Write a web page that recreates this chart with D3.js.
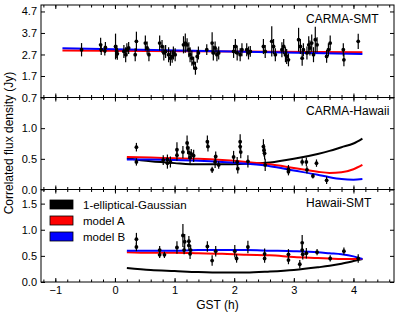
<!DOCTYPE html>
<html>
<head>
<meta charset="utf-8">
<script src="https://cdn.jsdelivr.net/npm/d3@7"></script>
<style>
    body { margin: 0; background: #fff; }
    svg { display: block; font-family: 'Liberation Sans', Arial, sans-serif; }
</style>
</head>
<body>
<svg id="chart" width="403" height="318"></svg>
<script>
// measurements per baseline: [GST (h), flux (Jy), error (Jy)]
const carmaSmt = [
    [-0.56, 2.92, 0.31], [-0.24, 3.15, 0.33], [-0.23, 2.92, 0.25], [-0.17, 2.87, 0.22], [-0.16, 3.03, 0.25],
    [0.01, 3.07, 0.60], [0.03, 2.84, 0.30], [0.04, 2.73, 0.28], [0.15, 2.84, 0.30], [0.18, 2.69, 0.35],
    [0.20, 2.92, 0.30], [0.23, 3.00, 0.28], [0.36, 3.31, 0.45], [0.34, 2.69, 0.30], [0.51, 3.23, 0.35],
    [0.54, 3.00, 0.30], [0.57, 2.69, 0.30], [0.75, 3.23, 0.35], [0.79, 3.07, 0.30], [0.82, 2.77, 0.35],
    [0.85, 2.84, 0.30], [0.90, 2.69, 0.35], [0.93, 2.53, 0.35], [0.96, 2.61, 0.30], [0.98, 2.77, 0.30],
    [1.01, 2.69, 0.30], [1.15, 3.15, 0.40], [1.18, 3.23, 0.45], [1.21, 3.15, 0.30], [1.24, 2.92, 0.35],
    [1.26, 2.69, 0.35], [1.29, 2.53, 0.35], [1.32, 2.30, 0.30], [1.35, 2.06, 0.30], [1.38, 2.61, 0.30],
    [1.40, 2.77, 0.30], [1.54, 2.92, 0.25], [1.63, 3.23, 0.50], [1.65, 2.77, 0.35], [1.68, 3.00, 0.30],
    [1.71, 2.69, 0.30], [1.74, 2.77, 0.30], [1.99, 2.84, 0.30], [2.02, 3.07, 0.35], [2.05, 2.77, 0.35],
    [2.10, 2.69, 0.30], [2.13, 2.92, 0.30], [2.21, 2.92, 0.30], [2.24, 2.77, 0.30], [2.27, 2.84, 0.25],
    [2.49, 3.07, 0.35], [2.52, 2.84, 0.30], [2.63, 3.31, 0.70], [2.66, 3.07, 0.35], [2.69, 2.69, 0.30],
    [2.80, 2.92, 0.35], [2.83, 3.07, 0.35], [2.86, 2.69, 0.35], [2.88, 2.61, 0.35], [2.91, 2.45, 0.30],
    [3.08, 3.39, 0.55], [3.11, 3.07, 0.35], [3.14, 2.53, 0.35], [3.16, 2.92, 0.30], [3.22, 2.77, 0.30],
    [3.25, 3.15, 0.40], [3.27, 3.00, 0.35], [3.30, 3.23, 0.40], [3.33, 2.69, 0.35], [3.36, 3.39, 0.60],
    [3.39, 3.15, 0.35], [3.55, 2.61, 0.30], [3.58, 2.92, 0.30], [3.61, 3.23, 0.35], [3.83, 2.92, 0.30],
    [3.84, 2.45, 0.30], [4.08, 3.31, 0.35]
];

const carmaHawaii = [
    [0.36, 0.69, 0.07], [0.36, 0.45, 0.06], [0.81, 0.48, 0.08], [0.88, 0.49, 0.08], [0.88, 0.43, 0.09],
    [0.93, 0.45, 0.09], [1.04, 0.65, 0.12], [1.04, 0.56, 0.09], [1.14, 0.61, 0.10], [1.21, 0.76, 0.12],
    [1.22, 0.68, 0.10], [1.24, 0.60, 0.10], [1.26, 0.52, 0.10], [1.28, 0.58, 0.08], [1.32, 0.55, 0.10],
    [1.55, 0.78, 0.10], [1.56, 0.70, 0.08], [1.63, 0.32, 0.05], [1.68, 0.45, 0.10], [1.69, 0.54, 0.08],
    [1.74, 0.40, 0.06], [1.99, 0.53, 0.10], [2.05, 0.45, 0.08], [2.06, 0.34, 0.08], [2.10, 0.78, 0.12],
    [2.10, 0.70, 0.10], [2.11, 0.61, 0.10], [2.23, 0.46, 0.10], [2.49, 0.70, 0.12], [2.50, 0.64, 0.10],
    [2.51, 0.59, 0.10], [2.52, 0.40, 0.10], [2.91, 0.33, 0.07], [2.91, 0.29, 0.06], [3.14, 0.45, 0.06],
    [3.21, 0.45, 0.07], [3.22, 0.32, 0.06], [3.32, 0.22, 0.04], [3.38, 0.43, 0.06], [3.55, 0.15, 0.06]
];

const hawaiiSmt = [
    [0.36, 0.82, 0.12], [0.36, 0.67, 0.08], [0.75, 0.61, 0.08], [0.75, 0.52, 0.06], [0.83, 0.52, 0.06],
    [1.04, 0.66, 0.12], [1.14, 0.89, 0.22], [1.16, 0.61, 0.08], [1.17, 0.77, 0.15], [1.24, 0.78, 0.10],
    [1.24, 0.70, 0.10], [1.27, 0.61, 0.10], [1.26, 0.54, 0.10], [1.55, 0.68, 0.10], [1.63, 0.41, 0.10],
    [1.69, 0.59, 0.10], [2.01, 0.59, 0.12], [2.04, 0.45, 0.08], [2.23, 0.67, 0.12], [2.51, 0.54, 0.10],
    [2.51, 0.45, 0.08], [2.91, 0.53, 0.10], [2.91, 0.42, 0.08], [3.10, 0.34, 0.08], [3.14, 0.75, 0.15],
    [3.14, 0.61, 0.10], [3.15, 0.53, 0.10], [3.21, 0.55, 0.10], [3.39, 0.57, 0.06], [3.61, 0.45, 0.06],
    [3.84, 0.59, 0.07], [4.08, 0.45, 0.08]
];

// model curves
const topModelGst = [-0.88, 4.15];
const smtModelA = [2.88, 2.80];
const smtModelB = [2.99, 2.72];

const modelGst = [0.2, 0.6, 1.0, 1.4, 1.8, 2.2, 2.6, 3.0, 3.4, 3.6, 3.8, 4.0, 4.15];
const hawaiiGauss = [0.51, 0.46, 0.43, 0.41, 0.41, 0.42, 0.44, 0.50, 0.58, 0.63, 0.69, 0.75, 0.83];
const hawaiiModelA = [0.53, 0.52, 0.51, 0.50, 0.48, 0.45, 0.41, 0.35, 0.29, 0.27, 0.28, 0.33, 0.40];
const hawaiiModelB = [0.49, 0.49, 0.48, 0.47, 0.45, 0.42, 0.38, 0.31, 0.24, 0.20, 0.17, 0.16, 0.17];
const hsGauss = [0.27, 0.23, 0.21, 0.19, 0.18, 0.18, 0.20, 0.23, 0.28, 0.31, 0.35, 0.40, 0.44];
const hsModelA = [0.57, 0.56, 0.56, 0.55, 0.54, 0.52, 0.51, 0.48, 0.46, 0.45, 0.44, 0.44, 0.44];
const hsModelB = [0.60, 0.60, 0.60, 0.61, 0.61, 0.61, 0.60, 0.59, 0.57, 0.55, 0.53, 0.49, 0.44];

const xTicks = [-1, 0, 1, 2, 3, 4];
const legendLabels = ['1-elliptical-Gaussian', 'model A', 'model B'];
const legendColors = ['black', 'red', 'blue'];

const svg = d3.select('#chart');
const left = 41, right = 394;

const x = d3.scaleLinear().domain([-1.24, 4.68]).range([left, right]);
const xMinor = d3.range(-1.2, 4.61, 0.2).map(v => +v.toFixed(1));

const panels = [
    {
        name: 'CARMA-SMT', top: 5, bottom: 97.5, domain: [0.7, 5.0],
        yTicks: [0.7, 1.7, 2.7, 3.7, 4.7], data: carmaSmt,
        models: [
            { gst: topModelGst, vals: smtModelA, color: 'red' },
            { gst: topModelGst, vals: smtModelB, color: 'blue' }
        ]
    },
    {
        name: 'CARMA-Hawaii', top: 97.5, bottom: 189.5, domain: [0, 1.5],
        yTicks: [0, 0.5, 1.0], data: carmaHawaii,
        models: [
            { gst: modelGst, vals: hawaiiGauss, color: 'black' },
            { gst: modelGst, vals: hawaiiModelA, color: 'red' },
            { gst: modelGst, vals: hawaiiModelB, color: 'blue' }
        ]
    },
    {
        name: 'Hawaii-SMT', top: 189.5, bottom: 282, domain: [0, 1.77],
        yTicks: [0, 0.5, 1.0, 1.5], data: hawaiiSmt,
        models: [
            { gst: modelGst, vals: hsGauss, color: 'black' },
            { gst: modelGst, vals: hsModelA, color: 'red' },
            { gst: modelGst, vals: hsModelB, color: 'blue' }
        ]
    }
];

panels.forEach((p, i) => {
    const y = d3.scaleLinear().domain(p.domain).range([p.bottom, p.top]);
    const g = svg.append('g');

    // model lines
    const line = d3
        .line()
        .x(d => x(d[0]))
        .y(d => y(d[1]))
        .curve(d3.curveMonotoneX);

    p.models.forEach(m => {
        g.append('path')
            .datum(m.gst.map((t, k) => [t, m.vals[k]]))
            .attr('fill', 'none')
            .attr('stroke', m.color)
            .attr('stroke-width', 2)
            .attr('d', line);
    });

    // error bars
    g.selectAll('line.err')
        .data(p.data)
        .join('line')
        .attr('class', 'err')
        .attr('x1', d => x(d[0]))
        .attr('x2', d => x(d[0]))
        .attr('y1', d => y(d[1] - d[2]))
        .attr('y2', d => y(d[1] + d[2]))
        .attr('stroke', 'black')
        .attr('stroke-width', 1.2);

    g.selectAll('circle')
        .data(p.data)
        .join('circle')
        .attr('cx', d => x(d[0]))
        .attr('cy', d => y(d[1]))
        .attr('r', 1.9)
        .attr('fill', 'black');

    // axes, ticks pointing inward on all four sides
    const fmt = d3.format('.1f');
    const axes = [
        d3.axisLeft(y).tickValues(p.yTicks).tickSize(-4).tickPadding(4).tickFormat(fmt),
        d3.axisRight(y).tickValues(p.yTicks).tickSize(-4).tickFormat('')
    ];
    g.append('g').attr('transform', `translate(${left},0)`).call(axes[0]);
    g.append('g').attr('transform', `translate(${right},0)`).call(axes[1]);

    g.append('g')
        .attr('transform', `translate(0,${p.bottom})`)
        .call(d3.axisBottom(x).tickValues(xTicks).tickSize(-4).tickPadding(4)
            .tickFormat(i === 2 ? d3.format('d') : ''));
    g.append('g')
        .attr('transform', `translate(0,${p.bottom})`)
        .call(d3.axisBottom(x).tickValues(xMinor).tickSize(-2.5).tickFormat(''));
    g.append('g')
        .attr('transform', `translate(0,${p.top})`)
        .call(d3.axisTop(x).tickValues(xTicks).tickSize(-4).tickFormat(''));
    g.append('g')
        .attr('transform', `translate(0,${p.top})`)
        .call(d3.axisTop(x).tickValues(xMinor).tickSize(-2.5).tickFormat(''));

    g.selectAll('.domain').remove();
    g.selectAll('.tick line').attr('stroke', 'black');
    g.selectAll('.tick text')
        .attr('font-size', 11)
        .attr('fill', 'black')
        .style('font-family', "'Liberation Sans', Arial, sans-serif");

    g.append('rect')
        .attr('x', left)
        .attr('y', p.top)
        .attr('width', right - left)
        .attr('height', p.bottom - p.top)
        .attr('fill', 'none')
        .attr('stroke', 'black')
        .attr('stroke-width', 1);

    g.append('text')
        .attr('x', 306)
        .attr('y', p.top + 17.5)
        .attr('font-size', 12)
        .text(p.name);

    // legend sits in the last panel
    if (i === 2) {
        const legend = g.append('g');
        legend
            .selectAll('rect')
            .data(legendColors)
            .join('rect')
            .attr('x', 50)
            .attr('y', (d, k) => 200 + k * 16)
            .attr('width', 23)
            .attr('height', 9)
            .attr('fill', d => d)
            .attr('stroke', 'black')
            .attr('stroke-width', 0.8);
        legend
            .selectAll('text')
            .data(legendLabels)
            .join('text')
            .attr('x', 83)
            .attr('y', (d, k) => 208.5 + k * 16)
            .attr('font-size', 11.5)
            .text(d => d);
    }
});

// axis titles
svg.append('text')
    .attr('text-anchor', 'middle')
    .attr('transform', 'translate(13,143) rotate(-90)')
    .attr('font-size', 12)
    .text('Correlated flux density (Jy)');

svg.append('text')
    .attr('text-anchor', 'middle')
    .attr('x', (left + right) / 2)
    .attr('y', 309)
    .attr('font-size', 12)
    .text('GST (h)');
</script>
</body>
</html>
